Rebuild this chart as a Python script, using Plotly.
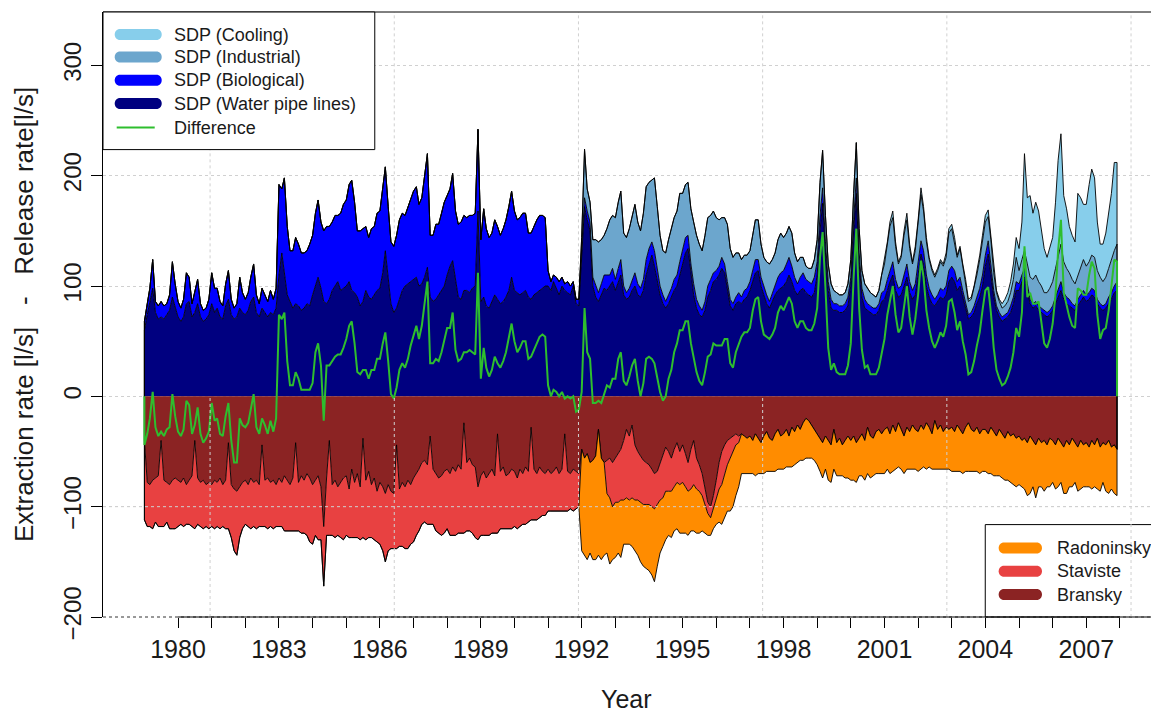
import pandas as pd
import numpy as np
import plotly.graph_objects as go

# ---------------------------------------------------------------------------
# Monthly series, January 1979 - December 2007 (one row per year), in l/s
# ---------------------------------------------------------------------------
FIRST_MONTH = "1979-01-01"

# Release side (SDP = sewage discharge points)
water_pipe = [
    60, 74, 84, 98, 76, 70, 72, 70, 74, 78, 90, 80,            # 1979
    72, 68, 72, 84, 86, 72, 76, 84, 72, 68, 70, 74,            # 1980
    84, 76, 80, 72, 70, 82, 88, 74, 70, 72, 80, 76,            # 1981
    74, 78, 86, 90, 76, 72, 80, 76, 72, 76, 74, 80,            # 1982
    110, 130, 112, 92, 86, 80, 84, 82, 78, 80, 84, 82,         # 1983
    92, 100, 108, 98, 86, 84, 88, 96, 100, 104, 96, 98,        # 1984
    100, 104, 96, 94, 90, 82, 86, 96, 90, 88, 92, 96,          # 1985
    98, 112, 132, 108, 84, 76, 80, 88, 96, 100, 102, 104,      # 1986
    106, 108, 100, 102, 108, 117, 90, 86, 88, 92, 96, 100,     # 1987
    110, 118, 123, 104, 90, 88, 96, 96, 94, 98, 100, 168,      # 1988
    86, 90, 82, 80, 86, 92, 88, 84, 86, 90, 96, 108,           # 1989
    96, 94, 92, 94, 96, 90, 88, 92, 94, 96, 98, 100,           # 1990
    100, 96, 104, 98, 92, 100, 96, 94, 92, 100, 84, 82,        # 1991
    130, 172, 160, 150, 100, 90, 86, 92, 98, 96, 100, 104,     # 1992
    96, 104, 110, 92, 88, 90, 96, 100, 92, 90, 96, 110,        # 1993
    120, 128, 118, 104, 92, 84, 80, 84, 90, 96, 100, 110,      # 1994
    120, 130, 134, 110, 92, 80, 74, 72, 78, 90, 96, 104,       # 1995
    106, 110, 116, 112, 96, 82, 78, 84, 86, 84, 88, 90,        # 1996
    96, 104, 112, 114, 100, 92, 84, 80, 86, 92, 96, 98,        # 1997
    100, 104, 110, 104, 96, 92, 96, 98, 94, 92, 90, 94,        # 1998
    110, 150, 175, 130, 96, 80, 78, 78, 76, 76, 78, 82,        # 1999
    100, 150, 184, 120, 90, 80, 78, 76, 74, 74, 78, 86,        # 2000
    88, 96, 104, 110, 96, 90, 92, 100, 108, 94, 88, 92,        # 2001
    110, 129, 120, 100, 90, 84, 82, 86, 90, 88, 92, 104,       # 2002
    108, 104, 96, 100, 90, 80, 70, 72, 76, 84, 90, 100,        # 2003
    118, 129, 110, 90, 78, 72, 68, 70, 72, 76, 84, 96,         # 2004
    96, 104, 108, 96, 84, 80, 82, 78, 76, 74, 72, 74,          # 2005
    78, 84, 90, 96, 88, 84, 82, 80, 78, 82, 86, 90,            # 2006
    86, 88, 92, 90, 84, 80, 78, 80, 84, 88, 94, 96,            # 2007
]

biological = [
    8, 10, 14, 26, 10, 12, 14, 12, 10, 14, 32, 22,             # 1979
    14, 12, 16, 28, 22, 12, 18, 22, 12, 10, 10, 14,            # 1980
    28, 22, 18, 14, 12, 20, 26, 14, 10, 12, 28, 18,            # 1981
    14, 16, 22, 30, 16, 12, 18, 16, 14, 20, 14, 18,            # 1982
    82, 58, 86, 62, 46, 52, 60, 56, 52, 50, 48, 56,            # 1983
    54, 66, 70, 60, 64, 70, 66, 62, 64, 60, 70, 76,            # 1984
    78, 88, 100, 82, 60, 68, 66, 58, 54, 64, 62, 70,           # 1985
    70, 76, 76, 64, 56, 60, 66, 72, 70, 64, 70, 76,            # 1986
    80, 82, 74, 78, 90, 103, 56, 60, 68, 64, 70, 76,           # 1987
    72, 70, 79, 64, 66, 70, 68, 66, 70, 66, 66, 74,            # 1988
    56, 80, 70, 64, 62, 68, 66, 62, 66, 70, 76, 78,            # 1989
    72, 66, 70, 72, 70, 58, 60, 62, 66, 68, 66, 62,            # 1990
    14, 8, 6, 10, 12, 8, 6, 10, 8, 4, 4, 6,                    # 1991
    8, 8, 8, 8, 8, 10, 8, 10, 12, 14, 10, 12,                  # 1992
    10, 12, 14, 8, 6, 8, 10, 12, 10, 8, 10, 14,                # 1993
    14, 12, 14, 10, 8, 8, 6, 8, 8, 10, 10, 12,                 # 1994
    12, 14, 12, 10, 10, 8, 8, 6, 8, 10, 10, 8,                 # 1995
    8, 8, 10, 8, 8, 6, 6, 6, 8, 6, 8, 8,                       # 1996
    8, 10, 12, 10, 8, 8, 8, 6, 8, 10, 12, 14,                  # 1997
    14, 16, 16, 14, 12, 10, 12, 14, 12, 12, 12, 14,            # 1998
    12, 14, 14, 10, 8, 8, 6, 6, 6, 6, 6, 8,                    # 1999
    8, 10, 14, 10, 8, 8, 6, 6, 6, 6, 6, 8,                     # 2000
    8, 10, 10, 12, 10, 8, 8, 10, 12, 10, 8, 10,                # 2001
    10, 12, 12, 10, 8, 8, 6, 6, 8, 8, 8, 10,                   # 2002
    10, 10, 8, 8, 6, 6, 4, 4, 6, 6, 8, 10,                     # 2003
    10, 12, 8, 6, 4, 4, 4, 4, 4, 6, 6, 8,                      # 2004
    6, 6, 8, 6, 4, 4, 4, 4, 4, 4, 4, 4,                        # 2005
    4, 6, 6, 8, 6, 6, 6, 4, 4, 6, 6, 6,                        # 2006
    6, 6, 6, 6, 4, 4, 4, 4, 6, 6, 6, 8,                        # 2007
]

industrial = [0] * 12 * 13 + [                                 # 1979-1991
    6, 44, 20, 18, 34, 42, 46, 40, 36, 42, 50, 48,             # 1992
    56, 60, 62, 48, 50, 54, 58, 62, 56, 52, 60, 66,            # 1993
    60, 56, 66, 58, 46, 40, 44, 50, 54, 56, 58, 62,            # 1994
    52, 48, 48, 50, 56, 58, 56, 54, 60, 62, 58, 56,            # 1995
    48, 42, 36, 42, 52, 46, 42, 40, 36, 34, 32, 30,            # 1996
    28, 34, 36, 36, 30, 26, 30, 34, 30, 28, 34, 36,            # 1997
    30, 28, 28, 30, 22, 20, 18, 14, 12, 12, 14, 16,            # 1998
    20, 30, 34, 24, 16, 14, 12, 10, 10, 10, 10, 12,            # 1999
    16, 24, 32, 22, 16, 14, 14, 12, 12, 10, 12, 16,            # 2000
    24, 30, 40, 40, 30, 22, 26, 36, 40, 30, 24, 30,            # 2001
    36, 42, 36, 30, 26, 22, 20, 22, 24, 22, 26, 34,            # 2002
    34, 26, 22, 26, 22, 18, 12, 12, 16, 20, 26, 32,            # 2003
    30, 22, 24, 16, 12, 10, 8, 8, 10, 12, 16, 22,              # 2004
    12, 14, 16, 18, 20, 22, 24, 22, 20, 16, 18, 20,            # 2005
    22, 26, 30, 34, 28, 26, 24, 22, 20, 22, 26, 28,            # 2006
    26, 28, 30, 30, 26, 24, 22, 24, 26, 30, 32, 34,            # 2007
]

cooling = [0] * 12 * 22 + [                                    # 1979-2000
    2, 4, 4, 6, 4, 2, 2, 4, 6, 4, 2, 4,                        # 2001
    4, 6, 4, 4, 2, 2, 2, 2, 2, 2, 4, 4,                        # 2002
    4, 4, 2, 2, 2, 2, 2, 2, 2, 4, 4, 4,                        # 2003
    6, 6, 4, 4, 2, 2, 4, 6, 8, 10, 14, 18,                     # 2004
    20, 34, 88, 60, 74, 60, 66, 64, 50, 40, 32, 36,            # 2005
    40, 60, 88, 100, 60, 54, 42, 40, 38, 74, 62, 50,           # 2006
    56, 70, 78, 72, 44, 30, 34, 40, 50, 60, 80, 74,            # 2007
]

# Extraction side (wells), magnitudes
bransky = [
    40, 78, 80, 76, 74, 72, 40, 76, 78, 80, 76, 74,            # 1979
    76, 78, 74, 80, 76, 72, 40, 74, 78, 76, 80, 78,            # 1980
    80, 76, 78, 74, 80, 76, 42, 80, 84, 86, 82, 78,            # 1981
    76, 80, 74, 78, 76, 80, 44, 76, 74, 78, 76, 80,            # 1982
    74, 78, 72, 76, 80, 74, 42, 78, 72, 76, 70, 74,            # 1983
    80, 76, 72, 82, 118, 74, 40, 80, 76, 82, 78, 74,           # 1984
    72, 84, 66, 78, 70, 82, 38, 76, 68, 80, 74, 86,            # 1985
    78, 82, 88, 80, 86, 88, 44, 84, 78, 82, 76, 80,            # 1986
    74, 70, 66, 60, 58, 62, 36, 66, 70, 74, 72, 68,            # 1987
    66, 70, 64, 68, 62, 66, 24, 60, 56, 62, 64, 82,            # 1988
    72, 68, 74, 70, 66, 72, 34, 68, 64, 72, 70, 66,            # 1989
    68, 74, 66, 70, 64, 68, 28, 66, 70, 64, 68, 70,            # 1990
    66, 70, 68, 64, 70, 66, 34, 68, 70, 66, 68, 70,            # 1991
    48, 56, 52, 60, 58, 54, 30, 56, 60, 58, 56, 60,            # 1992
    56, 52, 48, 40, 30, 36, 26, 44, 50, 54, 58, 60,            # 1993
    62, 66, 70, 68, 60, 54, 46, 50, 56, 48, 42, 50,            # 1994
    44, 52, 60, 48, 40, 56, 62, 70, 84, 96, 100, 90,           # 1995
    76, 60, 50, 44, 40, 38, 36, 34, 36, 34, 36, 38,            # 1996
    36, 40, 34, 38, 42, 36, 32, 38, 40, 34, 30, 36,            # 1997
    34, 30, 36, 28, 32, 26, 30, 24, 20, 22, 26, 30,            # 1998
    34, 38, 42, 36, 40, 44, 30, 42, 38, 44, 40, 36,            # 1999
    40, 36, 42, 38, 34, 40, 28, 36, 38, 32, 30, 34,            # 2000
    30, 28, 34, 26, 32, 24, 30, 36, 28, 32, 26, 30,            # 2001
    32, 26, 30, 24, 28, 34, 22, 30, 26, 32, 28, 30,            # 2002
    28, 32, 26, 30, 34, 28, 24, 30, 32, 28, 34, 30,            # 2003
    30, 34, 28, 32, 36, 30, 34, 38, 32, 36, 34, 38,            # 2004
    36, 40, 38, 42, 36, 40, 44, 38, 42, 40, 44, 38,            # 2005
    40, 44, 38, 42, 46, 40, 44, 38, 42, 46, 40, 44,            # 2006
    42, 46, 40, 44, 38, 46, 42, 44, 40, 46, 44, 48,            # 2007
]

staviste = [
    72, 40, 38, 44, 40, 46, 78, 42, 36, 40, 44, 46,            # 1979
    42, 38, 44, 36, 40, 46, 80, 42, 40, 44, 38, 42,            # 1980
    38, 44, 40, 46, 38, 44, 78, 48, 56, 58, 46, 42,            # 1981
    40, 38, 46, 40, 44, 38, 74, 42, 46, 40, 44, 38,            # 1982
    44, 40, 50, 46, 42, 48, 80, 44, 52, 48, 56, 58,            # 1983
    54, 50, 58, 48, 54, 52, 86, 46, 52, 44, 50, 56,            # 1984
    54, 44, 62, 50, 58, 48, 90, 54, 60, 48, 56, 46,            # 1985
    56, 58, 62, 60, 52, 50, 94, 52, 58, 56, 62, 54,            # 1986
    58, 56, 56, 56, 56, 54, 80, 50, 52, 50, 54, 56,            # 1987
    54, 56, 62, 58, 62, 58, 100, 62, 66, 62, 64, 48,           # 1988
    54, 58, 52, 56, 58, 52, 90, 52, 56, 48, 50, 54,            # 1989
    50, 46, 52, 46, 52, 46, 84, 46, 42, 46, 40, 38,            # 1990
    38, 34, 36, 40, 34, 38, 70, 36, 32, 38, 34, 30,            # 1991
    0, 0, 0, 0, 0, 0, 0, 0, 0, 30, 36, 40,                     # 1992
    40, 44, 46, 54, 62, 58, 66, 50, 44, 42, 40, 38,            # 1993
    36, 34, 32, 30, 34, 38, 40, 36, 30, 34, 36, 30,            # 1994
    34, 30, 26, 36, 40, 28, 24, 20, 14, 10, 10, 12,            # 1995
    16, 24, 30, 26, 22, 18, 14, 10, 6, 0, 0, 0,                # 1996
] + [0] * 12 * 11                                              # 1997-2007

radoninsky = [0] * 12 * 13 + [                                 # 1979-1991
    92, 88, 96, 82, 90, 94, 114, 92, 84, 54, 60, 48,           # 1992
    50, 46, 52, 40, 42, 40, 44, 46, 50, 54, 56, 58,            # 1993
    60, 62, 66, 56, 48, 44, 44, 40, 42, 40, 42, 44,            # 1994
    46, 42, 40, 38, 42, 40, 38, 32, 26, 20, 16, 18,            # 1995
    24, 30, 36, 40, 42, 48, 50, 46, 40, 36, 34, 32,            # 1996
    34, 30, 38, 32, 28, 34, 36, 30, 28, 34, 36, 30,            # 1997
    32, 34, 28, 36, 30, 34, 28, 34, 36, 34, 30, 28,            # 1998
    28, 30, 32, 30, 36, 34, 36, 30, 34, 28, 34, 38,            # 1999
    36, 40, 36, 34, 38, 36, 42, 38, 34, 38, 40, 36,            # 2000
    40, 38, 36, 42, 34, 40, 36, 34, 38, 34, 40, 36,            # 2001
    36, 40, 34, 42, 36, 32, 44, 36, 40, 34, 38, 36,            # 2002
    40, 36, 42, 38, 36, 40, 44, 38, 36, 40, 36, 38,            # 2003
    38, 36, 42, 40, 36, 42, 40, 38, 44, 42, 46, 44,            # 2004
    44, 42, 46, 48, 52, 42, 48, 44, 40, 46, 38, 44,            # 2005
    38, 40, 44, 36, 42, 48, 38, 44, 36, 40, 44, 38,            # 2006
    40, 36, 44, 38, 46, 40, 36, 42, 48, 38, 44, 42,            # 2007
]

Y_TICKS = [-200, -100, 0, 100, 200, 300]
YEAR_TICKS = list(range(1980, 2009))
YEAR_LABELS = [str(y) if (y - 1980) % 3 == 0 else "" for y in YEAR_TICKS]

# ---------------------------------------------------------------------------
n = len(water_pipe)
for s in (biological, industrial, cooling, bransky, staviste, radoninsky):
    assert len(s) == n
dates = pd.date_range(FIRST_MONTH, periods=n, freq="MS")

W = np.array(water_pipe, float)
B = np.array(biological, float)
I = np.array(industrial, float)
C = np.array(cooling, float)
BR = np.array(bransky, float)
ST = np.array(staviste, float)
RA = np.array(radoninsky, float)

rel1 = W
rel2 = rel1 + B
rel3 = rel2 + I
rel4 = rel3 + C
ext1 = -BR
ext2 = ext1 - ST
ext3 = ext2 - RA
difference = rel4 + ext3

# polygons are closed down to the zero line at both ends of the record
xs = [dates[0]] + list(dates) + [dates[-1]]


def closed(v):
    return [0.0] + list(v) + [0.0]


COL_COOL = "#87CEEB"
COL_IND = "#6CA6CD"
COL_BIO = "#0000FF"
COL_PIPE = "#000080"
COL_DIFF = "#2EBE2E"
COL_RAD = "#FF8C00"
COL_STA = "#E84141"
COL_BRA = "#8B2323"

fig = go.Figure()
layers = [
    (rel1, COL_PIPE, "tozeroy"),
    (rel2, COL_BIO, "tonexty"),
    (rel3, COL_IND, "tonexty"),
    (rel4, COL_COOL, "tonexty"),
    (ext1, COL_BRA, "tozeroy"),
    (ext2, COL_STA, "tonexty"),
    (ext3, COL_RAD, "tonexty"),
]
for vals, col, fill in layers:
    fig.add_trace(go.Scatter(
        x=xs, y=closed(vals), mode="lines", fill=fill, fillcolor=col,
        line=dict(color="black", width=0.9), hoverinfo="skip",
    ))
fig.add_trace(go.Scatter(
    x=xs, y=closed(difference), mode="lines",
    line=dict(color=COL_DIFF, width=2), hoverinfo="skip",
))

# --- pixel geometry of the plotting region -------------------------------
W_PX, H_PX = 1151, 713
L, R_EDGE, T, BOT = 103.3, 1151.0, 11.7, 616.7
Y_MIN, Y_MAX = -200, 348.4
X1980, X2007 = 178.3, 1086.3
d1980 = pd.Timestamp("1980-01-01")
px_per_day = (X2007 - X1980) / (pd.Timestamp("2007-01-01") - d1980).days
x_left = d1980 - pd.Timedelta(days=(X1980 - L) / px_per_day)
x_right = d1980 + pd.Timedelta(days=(R_EDGE - X1980) / px_per_day)


def pxp(X):
    return (X - L) / (R_EDGE - L)


def pyp(Y):
    return (BOT - Y) / (BOT - T)


FONT = "Liberation Sans, Arial, Helvetica, sans-serif"
TXT = "#1a1a1a"

shapes = []
annotations = []

# vertical grid lines (every 2000 days since 1970-01-01)
grid_dates = [pd.Timestamp("1970-01-01") + pd.Timedelta(days=d)
              for d in range(4000, 16000, 2000)]
grid_dates = [g for g in grid_dates if x_left < g < x_right]
GRID = dict(color="#D0D0D0", width=1, dash="dot")
for g in grid_dates:
    shapes.append(dict(type="line", xref="x", yref="y", x0=g, x1=g,
                       y0=0, y1=Y_MAX, line=GRID, layer="below"))


def capsule(x1, x2, yc, h, color):
    r = h / 2.0
    a, b = x1 + r, x2 - r
    k = 4.0 / 3.0 * r
    p = (f"M {pxp(a)},{pyp(yc - r)} L {pxp(b)},{pyp(yc - r)} "
         f"C {pxp(b + k)},{pyp(yc - r)} {pxp(b + k)},{pyp(yc + r)} {pxp(b)},{pyp(yc + r)} "
         f"L {pxp(a)},{pyp(yc + r)} "
         f"C {pxp(a - k)},{pyp(yc + r)} {pxp(a - k)},{pyp(yc - r)} {pxp(a)},{pyp(yc - r)} Z")
    return dict(type="path", xref="paper", yref="paper", path=p,
                fillcolor=color, line=dict(width=0), layer="above")


# lower-right legend (extraction)
shapes.append(dict(type="rect", xref="paper", yref="paper",
                   x0=pxp(985.3), x1=pxp(1170), y0=pyp(616.7), y1=pyp(524.3),
                   fillcolor="white", line=dict(color="black", width=1), layer="above"))
for name, col, yc in [("Radoninsky", COL_RAD, 547.7), ("Staviste", COL_STA, 571.0),
                      ("Bransky", COL_BRA, 594.3)]:
    shapes.append(capsule(998.7, 1042.0, yc, 11, col))
    annotations.append(dict(xref="paper", yref="paper", x=pxp(1055.3), y=pyp(yc),
                            xanchor="left", yanchor="middle", showarrow=False,
                            text=name, font=dict(family=FONT, size=18, color=TXT)))

# grid lines over the extraction part
for g in grid_dates:
    shapes.append(dict(type="line", xref="x", yref="y", x0=g, x1=g,
                       y0=Y_MIN, y1=0, line=GRID, layer="above"))
shapes.append(dict(type="line", xref="paper", yref="y", x0=0, x1=1,
                   y0=-100, y1=-100, line=GRID, layer="above"))

# frame: dotted base line, solid axis segment, top border
shapes.append(dict(type="line", xref="paper", yref="paper", x0=0, x1=1, y0=0, y1=0,
                   line=dict(color="#333333", width=1, dash="dot"), layer="above"))
shapes.append(dict(type="line", xref="x", yref="paper",
                   x0=pd.Timestamp("1980-01-01"), x1=pd.Timestamp("2008-01-01"),
                   y0=0, y1=0, line=dict(color="black", width=1), layer="above"))
shapes.append(dict(type="line", xref="paper", yref="paper", x0=0, x1=1, y0=1, y1=1,
                   line=dict(color="black", width=1), layer="above"))

# upper-left legend (release)
shapes.append(dict(type="rect", xref="paper", yref="paper",
                   x0=pxp(103.3), x1=pxp(375.0), y0=pyp(149.3), y1=pyp(11.7),
                   fillcolor="white", line=dict(color="black", width=1), layer="above"))
for name, col, yc in [("SDP (Cooling)", COL_COOL, 34.3), ("SDP (Industrial)", COL_IND, 56.7),
                      ("SDP (Biological)", COL_BIO, 80.0),
                      ("SDP (Water pipe lines)", COL_PIPE, 103.3)]:
    shapes.append(capsule(115.0, 162.0, yc, 11, col))
    annotations.append(dict(xref="paper", yref="paper", x=pxp(172.7), y=pyp(yc),
                            xanchor="left", yanchor="middle", showarrow=False,
                            text=name, font=dict(family=FONT, size=18, color=TXT)))
shapes.append(dict(type="line", xref="paper", yref="paper",
                   x0=pxp(117.0), x1=pxp(155.0), y0=pyp(127.3), y1=pyp(127.3),
                   line=dict(color=COL_DIFF, width=2), layer="above"))
annotations.append(dict(xref="paper", yref="paper", x=pxp(172.7), y=pyp(127.3),
                        xanchor="left", yanchor="middle", showarrow=False,
                        text="Difference", font=dict(family=FONT, size=18, color=TXT)))

# axis titles
annotations.append(dict(xref="paper", yref="paper", x=pxp(627.0), y=pyp(699.0),
                        xanchor="center", yanchor="middle", showarrow=False,
                        text="Year", font=dict(family=FONT, size=25, color=TXT)))
nb = "\u00a0"
annotations.append(dict(xref="paper", yref="paper", x=pxp(25.0), y=pyp(314.0),
                        xanchor="center", yanchor="middle", showarrow=False, textangle=-90,
                        text=f"Extraction rate [l/s]{nb*3}-{nb*3}Release rate[l/s]",
                        font=dict(family=FONT, size=26, color=TXT)))

fig.update_layout(
    width=W_PX, height=H_PX,
    margin=dict(l=L, r=W_PX - R_EDGE, t=T, b=H_PX - BOT, pad=0),
    paper_bgcolor="white", plot_bgcolor="white",
    showlegend=False,
    shapes=shapes, annotations=annotations,
    xaxis=dict(
        type="date", range=[x_left, x_right],
        tickvals=[pd.Timestamp(f"{y}-01-01") for y in YEAR_TICKS],
        ticktext=YEAR_LABELS,
        ticks="outside", ticklen=10, tickwidth=1, tickcolor="black",
        showgrid=False, showline=False, zeroline=False,
        tickfont=dict(family=FONT, size=25, color=TXT),
    ),
    yaxis=dict(
        range=[Y_MIN, Y_MAX], tickvals=Y_TICKS,
        ticks="outside", ticklen=11, tickwidth=1, tickcolor="black",
        showline=True, linecolor="black", linewidth=1,
        showgrid=True, gridcolor="#D0D0D0", griddash="dot", gridwidth=1,
        zeroline=False, tickangle=-90,
        tickfont=dict(family=FONT, size=24, color=TXT),
    ),
)

fig.write_html("out.html")
